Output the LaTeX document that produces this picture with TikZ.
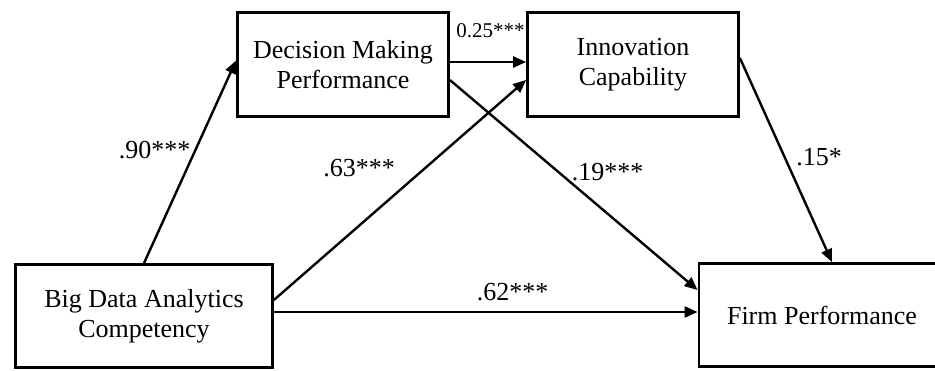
\documentclass[tikz,border=0pt]{standalone}
\usepackage{fontspec}
\setmainfont{Liberation Serif}
\usetikzlibrary{arrows.meta}
\begin{document}
\begin{tikzpicture}[x=1pt,y=-1pt,
  box/.style={draw, line width=2.8pt, inner sep=0pt, align=center,
    font=\fontsize{26}{30}\selectfont},
  arr/.style={line width=2.4pt, -{Triangle[length=13pt,width=11pt]}},
  lbl/.style={inner sep=0pt, anchor=base, font=\fontsize{26}{30}\selectfont},
  slbl/.style={inner sep=0pt, anchor=base, font=\fontsize{21}{25}\selectfont}]
\useasboundingbox (0,0) rectangle (935,370);
\fill[white] (0,0) rectangle (935,370);
\node[box, minimum width=211pt, minimum height=104pt] (dmp) at (343,64.5) {Decision Making\\Performance};
\node[box, minimum width=211pt, minimum height=104pt] (ic) at (633,64.5) {Innovation\\Capability};
\node[box, minimum width=257pt, minimum height=103pt] (bda) at (144,316) {Big Data Analytics\\Competency};
\node[box, minimum width=246pt, minimum height=103pt] (fp) at (822,315) {Firm Performance};
\coordinate (h) at ([yshift=4pt]bda.east);
\draw[arr] (bda.north) -- ([yshift=4pt]dmp.west);
\draw[arr] ([yshift=2.5pt]dmp.east) -- ([yshift=2.5pt]ic.west);
\draw[arr] ([yshift=16pt]bda.east) -- ([yshift=-15.5pt]ic.west);
\draw[arr] ([yshift=-15.5pt]dmp.east) -- ([yshift=25pt]fp.west);
\draw[arr] ([yshift=6.5pt]ic.east) -- ([xshift=10pt]fp.north);
\draw[arr] (h) -- (h -| fp.west);
\node[lbl] (l90) at (154.5,158) {.90***};
\node[slbl] (l25) at (490.5,37) {0.25***};
\node[lbl] (l63) at (359,176) {.63***};
\node[lbl] (l19) at (607.5,180) {.19***};
\node[lbl] (l15) at (819,165) {.15*};
\node[lbl] (l62) at (512.5,300) {.62***};
\end{tikzpicture}
\end{document}
